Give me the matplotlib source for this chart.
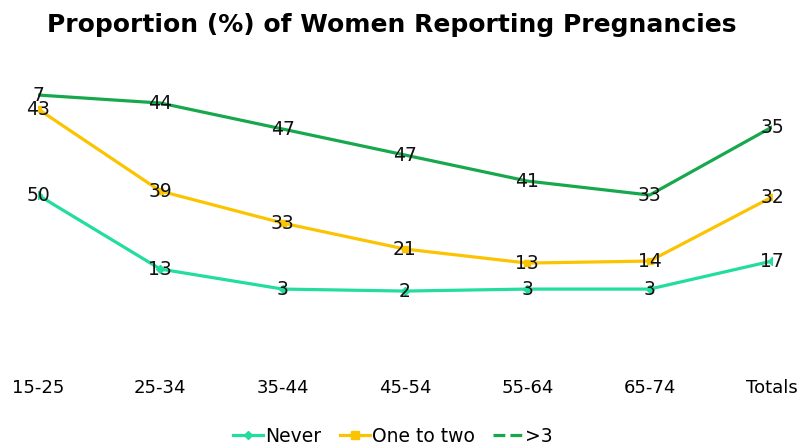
import numpy as np
import matplotlib
matplotlib.use('Agg')
import matplotlib.pyplot as plt
from matplotlib.lines import Line2D

# data (stacked line chart, labels show each series' own value)
groups = ['15-25', '25-34', '35-44', '45-54', '55-64', '65-74', 'Totals']
never = [50, 13, 3, 2, 3, 3, 17]
one_to_two = [43, 39, 33, 21, 13, 14, 32]
more_than_3 = [7, 44, 47, 47, 41, 33, 35]

series_names = ['Never', 'One to two', '>3']
colors = ['#22dd9e', '#fcc400', '#17a84e']

fig = plt.figure(figsize=(8.02, 4.46), dpi=100)
ax = fig.add_axes([38 / 802, 0.159, (772 - 38) / 802, 0.843 - 0.159])

x = np.arange(len(groups))
stack = np.cumsum([never, one_to_two, more_than_3], axis=0)
vals = [never, one_to_two, more_than_3]
markers = ['D', 's', None]

for i in range(3):
    ax.plot(x, stack[i], color=colors[i], lw=2.3, marker=markers[i], ms=4,
            zorder=2, solid_joinstyle='round')
    for xi, yi, v in zip(x, stack[i], vals[i]):
        ax.text(xi, yi, str(v), ha='center', va='center', fontsize=13.5,
                color='#111111', zorder=3)

ax.set_xlim(0, 6)
ax.set_ylim(-40, 112.5)
ax.set_yticks([])
ax.set_xticks(x)
ax.set_xticklabels(groups, fontsize=13)
ax.get_xticklabels()[0].set_x(-0.05)
ax.tick_params(axis='x', length=0, pad=3)
for s in ax.spines.values():
    s.set_visible(False)

fig.text(0.488, 0.945, 'Proportion (%) of Women Reporting Pregnancies',
         ha='center', va='center', fontsize=18, fontweight='bold')

handles = [
    Line2D([], [], color=colors[0], lw=2.3, marker='D', ms=4),
    Line2D([], [], color=colors[1], lw=2.3, marker='s', ms=6),
    Line2D([], [], color=colors[2], lw=2.3, ls='--'),
]
fig.legend(handles, series_names, loc='center', bbox_to_anchor=(0.49, 0.022),
           ncol=3, frameon=False, fontsize=13.5, handlelength=1.6,
           handletextpad=0.1, columnspacing=1.0)

fig.savefig('out.png', dpi=100)
